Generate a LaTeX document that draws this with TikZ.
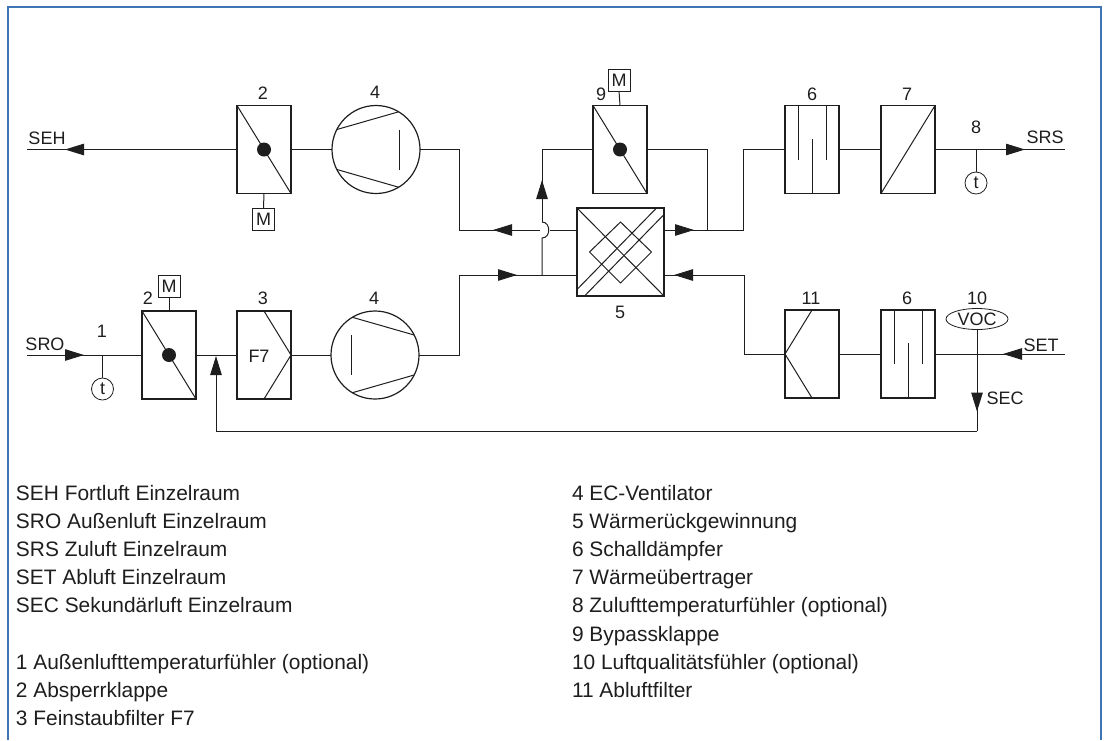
\documentclass[tikz,border=0pt]{standalone}
\usepackage{fontspec}
\setmainfont{Liberation Sans}
\usetikzlibrary{calc,arrows.meta,shapes.geometric,decorations.markings}
\definecolor{ink}{HTML}{1E1E1E}
\definecolor{framecol}{HTML}{3F74B5}
\tikzset{
  x=1pt,y=-1pt,
  every node/.style={text=ink,inner sep=0pt,outer sep=0pt},
  unitbox/.style={draw=ink,line width=1.6pt,rectangle,minimum width=54pt,minimum height=88pt},
  hxbox/.style={draw=ink,line width=1.6pt,rectangle,minimum width=87pt,minimum height=88pt},
  fanbody/.style={draw=ink,line width=1.2pt,circle,minimum size=88pt},
  inner/.style={draw=ink,line width=1pt},
  conn/.style={draw=ink,line width=1pt},
  sensor/.style={draw=ink,line width=.8pt,fill=white,circle,minimum size=22pt,font=\fontsize{18}{20}\selectfont},
  motor/.style={draw=ink,line width=.8pt,fill=white,rectangle,minimum size=22pt,font=\fontsize{18}{20}\selectfont},
  lab/.style={font=\fontsize{18}{20}\selectfont},
  legend/.style={anchor=base west,font=\fontsize{20.9}{25}\selectfont},
  flowmark/.style={postaction={decorate},decoration={markings,mark=at position #1 with {\arrow{Triangle[length=19pt,width=11.5pt]}}}},
  endtip/.style={-{Triangle[length=19pt,width=11.5pt]}}
}
\begin{document}
\begin{tikzpicture}
\useasboundingbox (0,0) rectangle (1107,740);
\draw[framecol,line width=2pt] (8,740) -- (8,7) -- (1101,7) -- (1101,740);

% units, upper row
\node[unitbox] (damperA) at (264,149.5) {};
\node[fanbody] (fanA) at (376,149.5) {};
\node[unitbox] (damperB) at (620,149.5) {};
\node[hxbox] (hx) at (620.5,252) {};
\node[unitbox] (silA) at (812,149.5) {};
\node[unitbox] (coil) at (908,149.5) {};
% units, lower row
\node[unitbox] (damperC) at (169,355) {};
\node[unitbox] (fine) at (264,355) {};
\node[fanbody] (fanB) at (375,355) {};
\node[unitbox] (exfilter) at (812,354) {};
\node[unitbox] (silB) at (908,354) {};
\node[draw=ink,line width=.8pt,fill=white,ellipse,minimum width=62pt,minimum height=21pt,font=\fontsize{18}{20}\selectfont] (voc) at (977,319) {VOC};

% motors and sensors
\node[motor] (mA) at (263.5,219) {M};
\node[motor] (mB) at (619,80) {M};
\node[motor] (mC) at (169,286.5) {M};
\node[sensor] (tA) at (102.5,389) {t};
\node[sensor] (tB) at (976,183) {t};

% unit numbers
\node[lab] (n2a) at (263,93) {2};
\node[lab] (n4a) at (375,92) {4};
\node[lab] (n9) at (601,94) {9};
\node[lab] (n6a) at (812,94) {6};
\node[lab] (n7) at (907,94) {7};
\node[lab] (n8) at (976,127) {8};
\node[lab] (n5) at (620,312) {5};
\node[lab] (n1) at (102,331) {1};
\node[lab] (n2b) at (148,298) {2};
\node[lab] (n3) at (263,298) {3};
\node[lab] (n4b) at (374,298) {4};
\node[lab] (n11) at (811,298) {11};
\node[lab] (n6b) at (907,298) {6};
\node[lab] (n10) at (977,298) {10};
\node[lab] (sehL) at (47,138) {SEH};
\node[lab] (sroL) at (45,344) {SRO};
\node[lab] (srsL) at (1045,137) {SRS};
\node[lab] (setL) at (1041,345) {SET};
\node[lab] (secL) at (1005,398) {SEC};
\node[lab] (f7L) at (259,356) {F7};

% unit internals
\foreach \d in {damperA,damperB,damperC}{
  \draw[inner] (\d.north west) -- (\d.south east);
  \fill[ink] (\d.center) circle (7);
}
\draw[inner] (fine.north) -- (fine.east) -- (fine.south);
\draw[inner] (exfilter.north) -- (exfilter.west) -- (exfilter.south);
\draw[inner] (coil.south west) -- (coil.north east);
\foreach \s in {silA,silB}{
  \draw[inner] ($(\s.north)+(-14,0)$) -- +(0,54);
  \draw[inner] ($(\s.north)+(14,0)$) -- +(0,54);
  \draw[inner] (\s.south) -- +(0,-55);
}
\draw[inner] (fanA.153) -- (fanA.59);
\draw[inner] (fanA.207) -- (fanA.301);
\draw[inner] ($(fanA.center)+(23,-20)$) -- +(0,40);
\draw[inner] (fanB.121) -- (fanB.27);
\draw[inner] (fanB.239) -- (fanB.333);
\draw[inner] ($(fanB.center)+(-24,-20)$) -- +(0,40);
\draw[inner] (hx.north west) -- (hx.south east);
\begin{scope}[shift={(hx.center)}]
  \draw[inner] (0,-30) -- (31,0) -- (0,31) -- (-31,0) -- cycle;
  \draw[inner] (-43,37) -- (36,-44);
  \draw[inner] (-36,44) -- (43,-37);
\end{scope}

% free ends and bends
\coordinate (sehEnd) at (27,149.5);
\coordinate (sroEnd) at (27,355);
\coordinate (srsEnd) at (1065,149.5);
\coordinate (setEnd) at (1065,354);
\coordinate (hxLU) at (577,230);
\coordinate (hxLL) at (577,275);
\coordinate (hxRU) at (664,230);
\coordinate (hxRL) at (664,275);
\coordinate (bendA) at (459,149.5);
\coordinate (bendAb) at (459,230);
\coordinate (bendB) at (459,355);
\coordinate (bendBb) at (459,275);
\coordinate (hopGapL) at (540,230);
\coordinate (hopGapR) at (549.5,230);
\coordinate (hopLow) at (542,238);
\coordinate (hopHigh) at (542,222);
\coordinate (teeBy) at (542,275);
\coordinate (byTop) at (542,149.5);
\coordinate (byOutTop) at (707,149.5);
\coordinate (byOutLow) at (707,230);
\coordinate (supTop) at (743,149.5);
\coordinate (supLow) at (743,230);
\coordinate (exTop) at (744,275);
\coordinate (exLow) at (744,354);
\coordinate (teeT1) at (102.5,355);
\coordinate (teeT2) at (976,149.5);
\coordinate (secCorner) at (977,431);
\coordinate (loopCorner) at (216,431);
\coordinate (loopEnd) at (216,356);

% connectors
\draw[conn,flowmark=172pt] (damperA.west) -- (sehEnd);
\draw[conn] (damperA.east) -- (fanA.west);
\draw[conn] (mA.north) -- (damperA.south);
\draw[conn,flowmark=84pt] (hxLU) -- (hopGapR);
\draw[conn,flowmark=47pt] (hopGapL) -- (bendAb) -- (bendA) -- (fanA.east);
\draw[conn] (mB.south) -- (damperB.north);
\draw[conn] (mC.south) -- (damperC.north);
\draw[conn] (teeBy) -- (hopLow) .. controls (551,238) and (551,222) .. (hopHigh);
\draw[conn,flowmark=42pt] (hopHigh) -- (byTop) -- (damperB.west);
\draw[conn] (damperB.east) -- (byOutTop) -- (byOutLow);
\draw[conn,flowmark=30pt] (hxRU) -- (supLow) -- (supTop) -- (silA.west);
\draw[conn] (silA.east) -- (coil.west);
\draw[conn,flowmark=90pt] (coil.east) -- (srsEnd);
\draw[conn] (teeT2) -- (tB.north);
\draw[conn,flowmark=57pt] (sroEnd) -- (damperC.west);
\draw[conn] (teeT1) -- (tA.north);
\draw[conn] (damperC.east) -- (fine.west);
\draw[conn] (fine.east) -- (fanB.west);
\draw[conn,flowmark=178pt] (fanB.east) -- (bendB) -- (bendBb) -- (hxLL);
\draw[conn,flowmark=190pt] (exfilter.west) -- (exLow) -- (exTop) -- (hxRL);
\draw[conn] (exfilter.east) -- (silB.west);
\draw[conn,flowmark=62pt] (setEnd) -- (silB.east);
\draw[conn,flowmark=82pt] (voc.south) -- (secCorner);
\draw[conn,endtip] (secCorner) -- (loopCorner) -- (loopEnd);

% legend
\node[legend] (l1) at (16,500) {SEH Fortluft Einzelraum};
\node[legend] (l2) at (16,528) {SRO Außenluft Einzelraum};
\node[legend] (l3) at (16,556) {SRS Zuluft Einzelraum};
\node[legend] (l4) at (16,584) {SET Abluft Einzelraum};
\node[legend] (l5) at (16,612) {SEC Sekundärluft Einzelraum};
\node[legend] (l6) at (16,669) {1 Außenlufttemperaturfühler (optional)};
\node[legend] (l7) at (16,697) {2 Absperrklappe};
\node[legend] (l8) at (16,725) {3 Feinstaubfilter F7};
\node[legend] (r1) at (572,500) {4 EC-Ventilator};
\node[legend] (r2) at (572,528) {5 Wärmerückgewinnung};
\node[legend] (r3) at (572,556) {6 Schalldämpfer};
\node[legend] (r4) at (572,584) {7 Wärmeübertrager};
\node[legend] (r5) at (572,612) {8 Zulufttemperaturfühler (optional)};
\node[legend] (r6) at (572,641) {9 Bypassklappe};
\node[legend] (r7) at (572,669) {10 Luftqualitätsfühler (optional)};
\node[legend] (r8) at (572,697) {11 Abluftfilter};
\end{tikzpicture}
\end{document}
